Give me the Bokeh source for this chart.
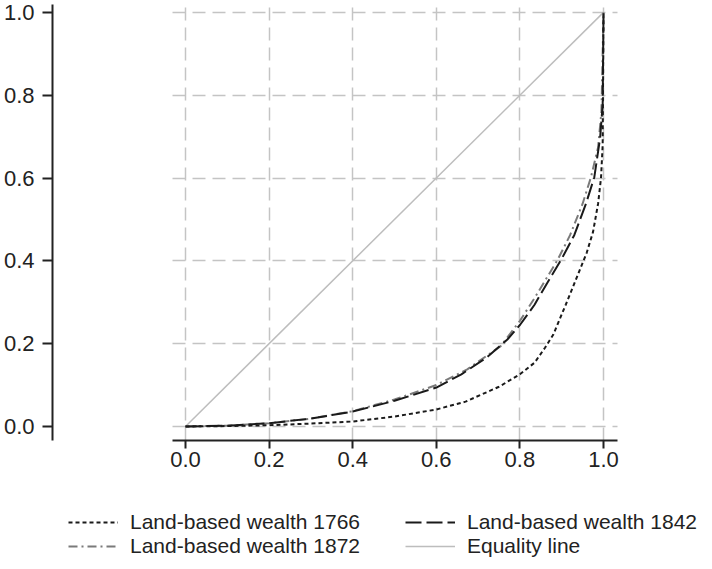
from bokeh.plotting import figure
from bokeh.models import (Range1d, LinearAxis, FixedTicker, Legend, LegendItem,
                          Grid, NumeralTickFormatter, BoxAnnotation)
from bokeh.embed import file_html
from bokeh.resources import INLINE

# cumulative share of population (x) and of wealth (y)
pop_1766 = [0, 0.1, 0.2, 0.3, 0.4, 0.5, 0.6, 0.67, 0.75, 0.8, 0.835, 0.86, 0.88, 0.91,
            0.94, 0.96, 0.975, 0.987, 0.994, 0.998, 1.0]
wealth_1766 = [0, 0.001, 0.003, 0.007, 0.012, 0.024, 0.041, 0.06, 0.096, 0.126, 0.154,
               0.19, 0.222, 0.295, 0.37, 0.42, 0.47, 0.538, 0.60, 0.68, 1.0]
pop_1842 = [0, 0.1, 0.2, 0.3, 0.4, 0.5, 0.6, 0.66, 0.72, 0.77, 0.8, 0.835, 0.865, 0.9,
            0.93, 0.958, 0.978, 0.992, 0.998, 1.0]
wealth_1842 = [0, 0.002, 0.008, 0.019, 0.036, 0.062, 0.094, 0.126, 0.166, 0.21, 0.245,
               0.294, 0.346, 0.405, 0.462, 0.538, 0.602, 0.698, 0.778, 1.0]
pop_1872 = [0, 0.1, 0.2, 0.3, 0.4, 0.5, 0.6, 0.674, 0.754, 0.8, 0.835, 0.866, 0.89, 0.92,
            0.95, 0.97, 0.987, 0.995, 1.0]
wealth_1872 = [0, 0.002, 0.008, 0.019, 0.037, 0.065, 0.10, 0.138, 0.194, 0.255, 0.31,
               0.362, 0.402, 0.462, 0.538, 0.602, 0.674, 0.76, 1.0]
equality_x = [0, 1]
equality_y = [0, 1]
ticks = [0, 0.2, 0.4, 0.6, 0.8, 1.0]
labels = ["Land-based wealth 1766", "Land-based wealth 1842",
          "Land-based wealth 1872", "Equality line"]

# visible plot region (data units) inside a larger frame that also holds the legend
X_LO, X_HI = -0.031, 1.034
Y_LO, Y_HI = -0.034, 1.019

FONT = "Liberation Sans"
INK = "#222222"

p = figure(frame_width=635, frame_height=554, output_backend="svg", toolbar_location=None,
           x_range=Range1d(-0.2799, 1.2392), y_range=Range1d(-0.3188, Y_HI),
           y_axis_location=None, min_border_top=4, min_border_left=0,
           min_border_right=0, min_border_bottom=0)
p.outline_line_color = None
# drop the figure's default grids; our own dashed grids follow
p.center = [r for r in p.center if not isinstance(r, Grid)]

has_cross = "cross_bounds" in Grid.properties()
for dim in (0, 1):
    g = Grid(dimension=dim, ticker=FixedTicker(ticks=ticks), grid_line_color="#c4c4c4",
             grid_line_width=1.5, grid_line_dash="13 7")
    if has_cross:
        g.cross_bounds = (Y_LO, Y_HI) if dim == 0 else (X_LO, X_HI)
    p.add_layout(g)
if not has_cross:
    for kw in (dict(right=X_LO), dict(left=X_HI), dict(top=Y_LO)):
        p.add_layout(BoxAnnotation(fill_color="white", fill_alpha=1, line_color=None,
                                   level="underlay", **kw))

def style_axis(ax, tick_out, standoff):
    ax.ticker = FixedTicker(ticks=ticks)
    ax.formatter = NumeralTickFormatter(format="0.0")
    ax.axis_line_color = INK
    ax.axis_line_width = 2
    ax.major_tick_line_color = INK
    ax.major_tick_line_width = 2
    ax.major_tick_in = 0
    ax.major_tick_out = tick_out
    ax.minor_tick_line_color = None
    ax.major_label_text_font = FONT
    ax.major_label_text_font_size = "22px"
    ax.major_label_text_color = INK
    ax.major_label_standoff = standoff

xax = p.xaxis[0]
style_axis(xax, 8, 3)
xax.fixed_location = Y_LO
xax.bounds = (X_LO, X_HI)

# spacer between frame and the offset y axis
spacer = LinearAxis(ticker=FixedTicker(ticks=ticks), axis_line_color=None,
                    major_tick_line_color=None, minor_tick_line_color=None,
                    major_tick_in=0, major_tick_out=16, major_label_standoff=0,
                    major_label_overrides={t: "" for t in ticks})
p.add_layout(spacer, "left")
yax = LinearAxis()
style_axis(yax, 10, 8)
yax.bounds = (Y_LO, Y_HI)
p.add_layout(yax, "left")

r_eq = p.line(equality_x, equality_y, line_color="#bdbdbd", line_width=1.5)
r_1872 = p.line(pop_1872, wealth_1872, line_color="#7a7a7a", line_width=2,
                line_dash="9 4 2 4")
r_1842 = p.line(pop_1842, wealth_1842, line_color="#1a1a1a", line_width=2,
                line_dash="16 5")
r_1766 = p.line(pop_1766, wealth_1766, line_color="#1a1a1a", line_width=2,
                line_dash="4 3")

legend = Legend(items=[LegendItem(label=labels[0], renderers=[r_1766]),
                       LegendItem(label=labels[1], renderers=[r_1842]),
                       LegendItem(label=labels[2], renderers=[r_1872]),
                       LegendItem(label=labels[3], renderers=[r_eq])],
                orientation="horizontal", ncols=2, location=(0, 0),
                glyph_width=50, glyph_height=20, label_height=20, label_width=275,
                label_standoff=12, spacing=0, padding=0, margin=0,
                border_line_color=None, background_fill_color=None,
                label_text_font=FONT, label_text_font_size="21px",
                label_text_color=INK)
p.add_layout(legend)

open("out.html", "w").write(file_html(p, INLINE))
